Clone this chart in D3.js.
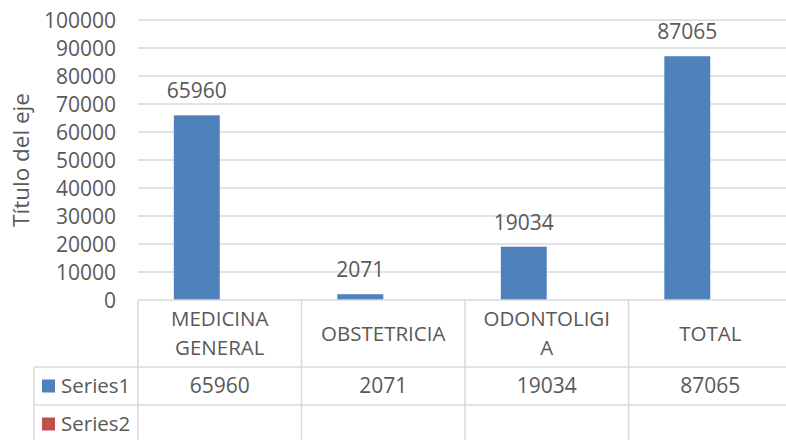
<!DOCTYPE html>
<html>
<head>
<meta charset="utf-8">
<script src="https://cdn.jsdelivr.net/npm/d3@7"></script>
<style>
  html, body { margin: 0; padding: 0; background: #fff; }
  svg { display: block; }
  text { font-family: "Open Sans", sans-serif; fill: #595959; }
</style>
</head>
<body>
<svg id="chart" width="786" height="440"></svg>
<script>
// ---- data ----
const categories = ["MEDICINA GENERAL", "OBSTETRICIA", "ODONTOLIGIA", "TOTAL"];
const categoryLines = [["MEDICINA", "GENERAL"], ["OBSTETRICIA"], ["ODONTOLIGI", "A"], ["TOTAL"]];
const seriesNames = ["Series1", "Series2"];
const series1 = [65960, 2071, 19034, 87065];
const series2 = [null, null, null, null];
const yTicks = [0, 10000, 20000, 30000, 40000, 50000, 60000, 70000, 80000, 90000, 100000];
const axisTitle = "Título del eje";

// ---- layout ----
const W = 786, H = 440;
const plotLeft = 138, colW = 163.5;
const plotTop = 20, plotBottom = 300;
const plotRight = plotLeft + colW * categories.length;
const row1Top = 367, row2Top = 405, row3Bottom = 443;
const tableLeft = 34;
const colors = { Series1: "#4f81bd", Series2: "#c0504d" };
const gridColor = "#d9d9d9";
const fs = 20.5;

const svg = d3.select("#chart");

const x = d3.scaleBand().domain(categories).range([plotLeft, plotRight]).padding(0);
const xs = d3.scaleBand().domain(seriesNames).range([0, x.bandwidth()]).paddingInner(0).paddingOuter(0.78);
const y = d3.scaleLinear().domain([0, 100000]).range([plotBottom, plotTop]);

// gridlines
svg.append("g").selectAll("line").data(yTicks.filter(d => d > 0)).join("line")
  .attr("x1", plotLeft).attr("x2", W)
  .attr("y1", d => y(d)).attr("y2", d => y(d))
  .attr("stroke", gridColor).attr("stroke-width", 1.5);

// y axis labels
const yAxis = d3.axisLeft(y).tickValues(yTicks).tickSize(0).tickPadding(0).tickFormat(d3.format("d"));
const ya = svg.append("g").attr("transform", `translate(${plotLeft - 22},0)`).call(yAxis);
ya.select(".domain").remove();
ya.selectAll("text").attr("font-size", 21).attr("font-family", "Open Sans, sans-serif")
  .style("fill", "#595959").attr("dy", "0.35em");

// axis title
svg.append("text")
  .attr("transform", `translate(29,${(plotTop + plotBottom) / 2}) rotate(-90)`)
  .attr("text-anchor", "middle")
  .attr("font-size", 22.5)
  .text(axisTitle);

// bars
const allSeries = [series1, series2];
const barData = [];
categories.forEach((c, i) => {
  seriesNames.forEach((s, j) => {
    if (allSeries[j][i] != null) barData.push({ c, s, v: allSeries[j][i] });
  });
});
svg.append("g").selectAll("rect").data(barData).join("rect")
  .attr("x", d => x(d.c) + xs(d.s))
  .attr("width", xs.bandwidth())
  .attr("y", d => y(d.v))
  .attr("height", d => y(0) - y(d.v))
  .attr("fill", d => colors[d.s]);

// value labels
svg.append("g").selectAll("text").data(barData).join("text")
  .attr("x", d => x(d.c) + xs(d.s) + xs.bandwidth() / 2)
  .attr("y", d => y(d.v) - 17)
  .attr("text-anchor", "middle")
  .attr("font-size", 21)
  .text(d => d.v);

// ---- data table ----
const tg = svg.append("g").attr("stroke", gridColor).attr("stroke-width", 1.5);
tg.append("line").attr("x1", plotLeft).attr("x2", W).attr("y1", plotBottom).attr("y2", plotBottom);
[row1Top, row2Top].forEach(yy => tg.append("line").attr("x1", tableLeft).attr("x2", W).attr("y1", yy).attr("y2", yy));
tg.append("line").attr("x1", tableLeft).attr("x2", W).attr("y1", row3Bottom).attr("y2", row3Bottom);
const vx = categories.map(c => x(c)).concat([plotRight]);
vx.forEach(xx => tg.append("line").attr("x1", xx).attr("x2", xx).attr("y1", plotBottom).attr("y2", H + 5));
tg.append("line").attr("x1", tableLeft).attr("x2", tableLeft).attr("y1", row1Top).attr("y2", H + 5);

// category labels
const lineH = 29;
categories.forEach((c, i) => {
  const lines = categoryLines[i];
  const cy = (plotBottom + row1Top) / 2;
  const startY = cy - (lines.length - 1) * lineH / 2;
  const t = svg.append("text").attr("text-anchor", "middle").attr("font-size", fs);
  lines.forEach((ln, k) => {
    t.append("tspan").attr("x", x(c) + x.bandwidth() / 2).attr("y", startY + k * lineH).attr("dy", "0.35em").text(ln);
  });
});

// legend keys & row values
const rowTops = [row1Top, row2Top];
seriesNames.forEach((s, j) => {
  const cy = rowTops[j] + 19;
  svg.append("rect").attr("x", 42).attr("y", cy - 6.5).attr("width", 13).attr("height", 13).attr("fill", colors[s]);
  svg.append("text").attr("x", 61).attr("y", cy).attr("dy", "0.35em").attr("font-size", fs).text(s);
  categories.forEach((c, i) => {
    const v = allSeries[j][i];
    if (v != null) {
      svg.append("text").attr("x", x(c) + x.bandwidth() / 2).attr("y", cy).attr("dy", "0.35em")
        .attr("text-anchor", "middle").attr("font-size", 21).text(v);
    }
  });
});
</script>
</body>
</html>
